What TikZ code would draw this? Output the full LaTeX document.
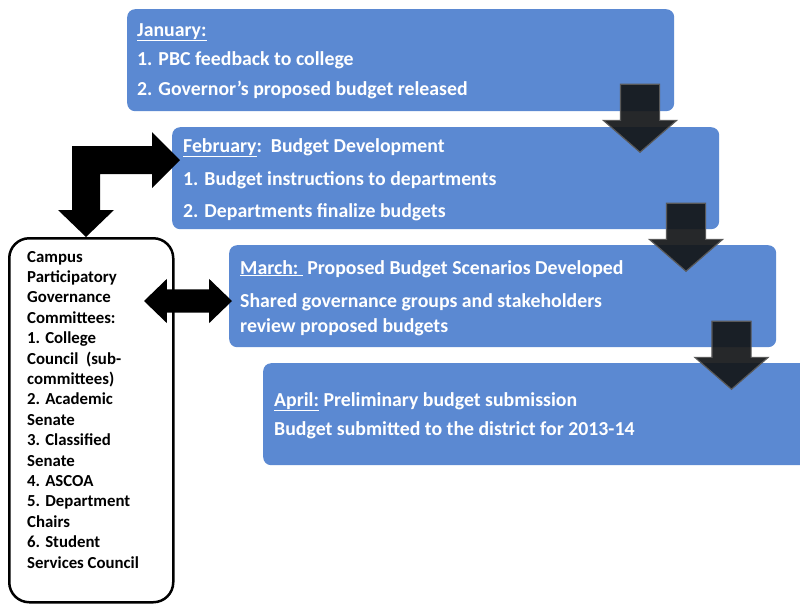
\documentclass[tikz,border=0pt]{standalone}
\usepackage{fontspec}
\setmainfont{Carlito}
\usepackage{tikz}
\usetikzlibrary{positioning, shapes.arrows}
\definecolor{boxblue}{HTML}{5B89D2}
\definecolor{arrowfill}{HTML}{141618}

\begin{document}
\begin{tikzpicture}[x=1pt, y=-1pt,
    monthbox/.style={shape=rectangle, rounded corners=8pt, fill=boxblue, anchor=north west,
        minimum width=547pt, minimum height=102pt, inner sep=0pt},
    boxtext/.style={anchor=base west, inner sep=0pt, text=white, font=\fontsize{19.8}{24}\selectfont\bfseries},
    committee/.style={anchor=base west, inner sep=0pt, font=\fontsize{16.8}{20}\selectfont\bfseries},
    downarrow/.style={shape=single arrow, rotate=-90, anchor=tip, fill=arrowfill, fill opacity=0.92, draw=black!65,
        line width=1.2pt, inner xsep=0pt, inner ysep=19pt, single arrow head extend=17pt,
        single arrow tip angle=98, minimum height=68pt},
    bigarrow/.style={fill=black, draw=none}
]
    \useasboundingbox (0,0) rectangle (800,603);

    \node[monthbox] (jan) at (127,9) {};
    \node[monthbox] (feb) at (172,127) {};
    \node[monthbox] (mar) at (229,245) {};
    \node[monthbox] (apr) at (263,363) {};

    \node[shape=rectangle, rounded corners=20pt, draw=black, line width=2.5pt, fill=white,
        anchor=north west, minimum width=164pt, minimum height=364pt] (committees) at (8,237) {};

    \node[boxtext] (jan0) at (137,36) {\underline{January:}};
    \node[boxtext] (jan1) at (137,65) {1. PBC feedback to college};
    \node[boxtext] (jan2) at (137,95) {2. Governor’s proposed budget released};

    \node[boxtext] (feb0) at (183,152) {\underline{February}:~~Budget Development};
    \node[boxtext] (feb1) at (183,185) {1. Budget instructions to departments};
    \node[boxtext] (feb2) at (183,217) {2. Departments finalize budgets};

    \node[boxtext] (mar0) at (240,274) {\underline{March:~}~Proposed Budget Scenarios Developed};
    \node[boxtext] (mar1) at (240,307) {Shared governance groups and stakeholders};
    \node[boxtext] (mar2) at (240,332) {review proposed budgets};

    \node[boxtext] (apr0) at (274,406) {\underline{April:} Preliminary budget submission};
    \node[boxtext] (apr1) at (274,435) {Budget submitted to the district for 2013-14};

    \node[committee] (c0) at (27,262) {Campus};
    \node[committee] (c1) at (27,282.4) {Participatory};
    \node[committee] (c2) at (27,302.8) {Governance};
    \node[committee] (c3) at (27,323.2) {Committees:};
    \node[committee] (c4) at (27,343.6) {1. College};
    \node[committee] (c5) at (27,364) {Council~ (sub-};
    \node[committee] (c6) at (27,384.4) {committees)};
    \node[committee] (c7) at (27,404.8) {2. Academic};
    \node[committee] (c8) at (27,425.2) {Senate};
    \node[committee] (c9) at (27,445.6) {3. Classified};
    \node[committee] (c10) at (27,466) {Senate};
    \node[committee] (c11) at (27,486.4) {4. ASCOA};
    \node[committee] (c12) at (27,506.8) {5. Department};
    \node[committee] (c13) at (27,527.2) {Chairs};
    \node[committee] (c14) at (27,547.6) {6. Student};
    \node[committee] (c15) at (27,568) {Services Council};

    \node[downarrow] (a1) at (640,153) {};
    \node[downarrow] (a2) at (686,272) {};
    \node[downarrow] (a3) at (731.5,390) {};

    \node[shape=double arrow, fill=black, inner xsep=0pt, inner ysep=11.5pt,
        double arrow head extend=10.5pt, double arrow tip angle=88, minimum height=88pt] (both) at (188,301) {};

    \coordinate (bendtip) at (86,237);
    \fill[bigarrow] (bendtip) -- ++(28,-27) -- ++(-14,0) -- ++(0,-36) -- ++(52,0) -- ++(0,14)
        -- ++(28,-28) -- ++(-28,-28) -- ++(0,14) -- ++(-80,0) -- ++(0,64) -- ++(-14,0) -- cycle;

\end{tikzpicture}
\end{document}
